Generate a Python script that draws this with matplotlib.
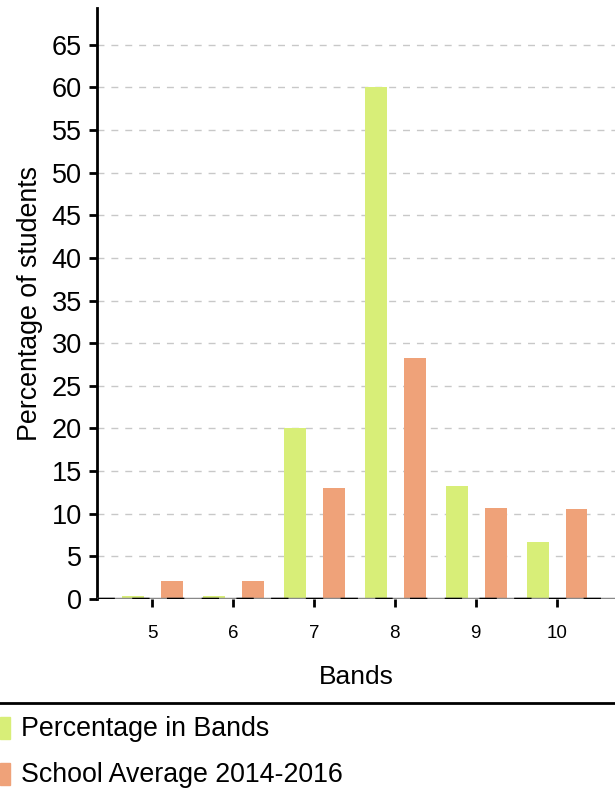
import matplotlib
matplotlib.use("Agg")
import matplotlib.pyplot as plt
from matplotlib.patches import Rectangle
from matplotlib.lines import Line2D
import numpy as np

plt.rcParams['font.family'] = ['Liberation Sans', 'DejaVu Sans']

bands = ['5', '6', '7', '8', '9', '10']
pct_in_bands = [0.3, 0.3, 20.0, 60.0, 13.3, 6.7]
school_avg = [2.1, 2.1, 13.0, 28.3, 10.7, 10.6]
series_names = ['Percentage in Bands', 'School Average 2014-2016']
colors = ['#D8EE78', '#EFA279']
yticks = list(range(0, 70, 5))

fig = plt.figure(figsize=(6.15, 7.96), dpi=100)
ax = fig.add_axes([97/615, 1 - 599/796, 1 - 97/615, 591/796])

x = np.arange(len(bands))
w = 0.27
ax.bar(x - 0.235, pct_in_bands, width=w, color=colors[0], zorder=3)
ax.bar(x + 0.245, school_avg, width=w, color=colors[1], zorder=3)

ax.set_xlim(-0.68, 5.72)
ax.set_ylim(0, 69.3)
ax.set_yticks(yticks)
ax.set_xticks(x)
ax.set_xticklabels(bands)
ax.tick_params(axis='y', labelsize=19.5, length=6, width=2, direction='out', pad=5)
ax.tick_params(axis='x', labelsize=13.5, length=6, width=2, direction='out', pad=13)
for t in yticks[1:]:
    ax.axhline(t, color='#c8c8c8', linestyle=(0, (5, 5)), linewidth=1, zorder=1)
ax.axhline(0, color='#888888', linestyle='-', linewidth=2.5, zorder=4)
ax.axhline(0, color='black', linestyle=(0, (5, 5)), linewidth=2.5, zorder=5)

for s in ['top', 'right', 'bottom']:
    ax.spines[s].set_visible(False)
ax.spines['left'].set_linewidth(2)

ax.set_ylabel('Percentage of students', fontsize=19.3, labelpad=6)
ax.set_xlabel('Bands', fontsize=19, labelpad=16)

# legend area
fig.add_artist(Line2D([0, 1], [1 - 703/796, 1 - 703/796], color='black', linewidth=2, transform=fig.transFigure))
for i, (name, c) in enumerate(zip(series_names, colors)):
    yc = 728 + i * 46
    fig.add_artist(Rectangle((0, 1 - (yc + 11)/796), 10/615, 22/796, color=c, transform=fig.transFigure))
    fig.text(21/615, 1 - (yc + 1)/796, name, fontsize=19.3, va='center', ha='left')

fig.savefig('out.png', dpi=100)
